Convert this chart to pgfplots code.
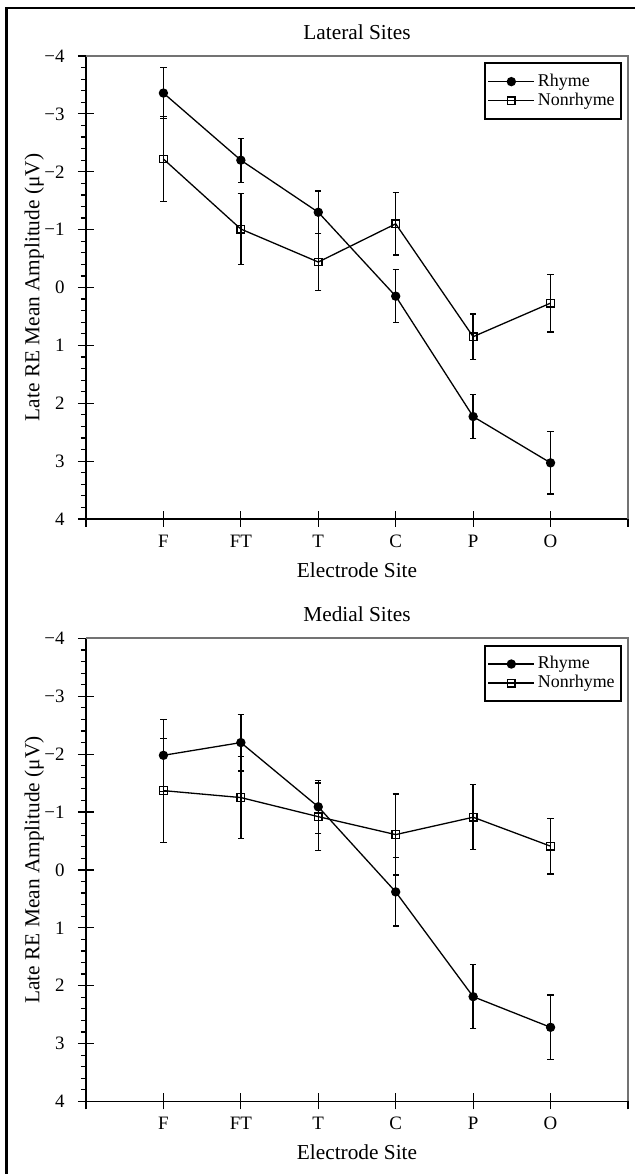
\documentclass[border=0pt]{standalone}
\usepackage{fontspec}
\setmainfont{Liberation Serif}
\usepackage{pgfplots}
\usepackage{pgfplotstable}
\pgfplotsset{compat=1.18}

% columns: site index, mean amplitude, error
\pgfplotstableread{
x y e
1 -3.36 0.44
2 -2.20 0.38
3 -1.30 0.37
4 0.15 0.46
5 2.23 0.38
6 3.03 0.54
}\latrhyme
\pgfplotstableread{
x y e
1 -2.22 0.74
2 -1.01 0.61
3 -0.44 0.49
4 -1.10 0.54
5 0.85 0.39
6 0.27 0.50
}\latnon
\pgfplotstableread{
x y e
1 -1.98 0.62
2 -2.20 0.49
3 -1.09 0.46
4 0.38 0.59
5 2.19 0.55
6 2.72 0.56
}\medrhyme
\pgfplotstableread{
x y e
1 -1.37 0.90
2 -1.25 0.71
3 -0.92 0.58
4 -0.61 0.70
5 -0.91 0.56
6 -0.41 0.48
}\mednon

\pgfplotsset{
  erpaxis/.style={
    width=271bp, height=231.5bp, scale only axis, anchor=north west,
    xmin=0, xmax=7, ymin=-4, ymax=4, y dir=reverse,
    xtick={0,...,7}, xticklabels={,F,FT,T,C,P,O,},
    ytick={-4,...,4}, yticklabels={−4,−3,−2,−1,0,1,2,3,4},
    minor y tick num=4,
    axis lines=left, axis line style={-, line width=0.6bp},
    tick align=center, major tick length=8bp, minor tick length=2.5bp,
    tick style={black, line width=0.6bp},
    minor y tick style={xshift=-1.25bp},
    tick label style={font=\fontsize{9.5}{10}\selectfont, inner sep=0pt},
    xticklabel style={anchor=base, yshift=-10bp},
    yticklabel style={anchor=east, xshift=-6.5bp},
    every axis title/.style={at={(axis description cs:0.5,1)}, anchor=base,
      yshift=8.5bp, inner sep=0pt, font=\fontsize{10.7}{11}\selectfont},
    every axis x label/.style={at={(axis description cs:0.5,0)}, anchor=base,
      yshift=-29.2bp, inner sep=0pt, font=\fontsize{10.7}{11}\selectfont},
    every axis y label/.style={at={(axis description cs:-0.086,0.5)}, rotate=90,
      anchor=base, inner sep=0pt, font=\fontsize{10.7}{11}\selectfont},
    xlabel={Electrode Site},
    ylabel={Late RE Mean Amplitude (μV)},
    legend style={at={(axis description cs:1,1)}, anchor=north east,
      xshift=-3.2bp, yshift=-3.2bp, draw=black, line width=0.9bp, fill=white,
      font=\fontsize{9}{9}\selectfont, inner xsep=1.5bp, inner ysep=5bp,
      nodes={inner ysep=0.3bp, inner xsep=1.5bp}, row sep=1.2bp,
      cells={anchor=west}},
    legend cell align=left,
    legend image code/.code={\draw[mark repeat=2,mark phase=2,##1]
      plot coordinates {(0bp,0bp)(11.5bp,0bp)(23bp,0bp)};},
    after end axis/.code={\draw[black!55, line width=1bp]
      (axis description cs:0,1) -- (axis description cs:1,1) -- (axis description cs:1,0);},
  },
  rhyme/.style={black, line width=0.65bp, mark=*, mark size=2bp,
    mark options={solid, fill=black},
    error bars/y dir=both, error bars/y explicit,
    error bars/error bar style={line width=0.65bp},
    error bars/error mark options={rotate=90, mark size=1.6bp, line width=0.65bp}},
  nonrhyme/.style={black, line width=0.65bp, mark=square, mark size=1.9bp,
    mark options={solid, fill=white},
    error bars/y dir=both, error bars/y explicit,
    error bars/error bar style={line width=0.65bp},
    error bars/error mark options={rotate=90, mark size=1.6bp, line width=0.65bp}},
}

\begin{document}
\begin{tikzpicture}
\useasboundingbox (0,0) rectangle (317.5bp,-587bp);
\draw[line width=1.4bp] (3.3bp,-587bp) -- (3.3bp,-4bp) -- (317.5bp,-4bp);

\begin{axis}[erpaxis, at={(43bp,-28bp)}, title={Lateral Sites}]
\addplot[rhyme] table[x=x, y=y, y error=e] {\latrhyme};
\addplot[nonrhyme] table[x=x, y=y, y error=e] {\latnon};
\legend{Rhyme, Nonrhyme}
\end{axis}

\begin{axis}[erpaxis, at={(43bp,-319.2bp)}, title={Medial Sites}]
\addplot[rhyme] table[x=x, y=y, y error=e] {\medrhyme};
\addplot[nonrhyme] table[x=x, y=y, y error=e] {\mednon};
\legend{Rhyme, Nonrhyme}
\end{axis}
\end{tikzpicture}
\end{document}
